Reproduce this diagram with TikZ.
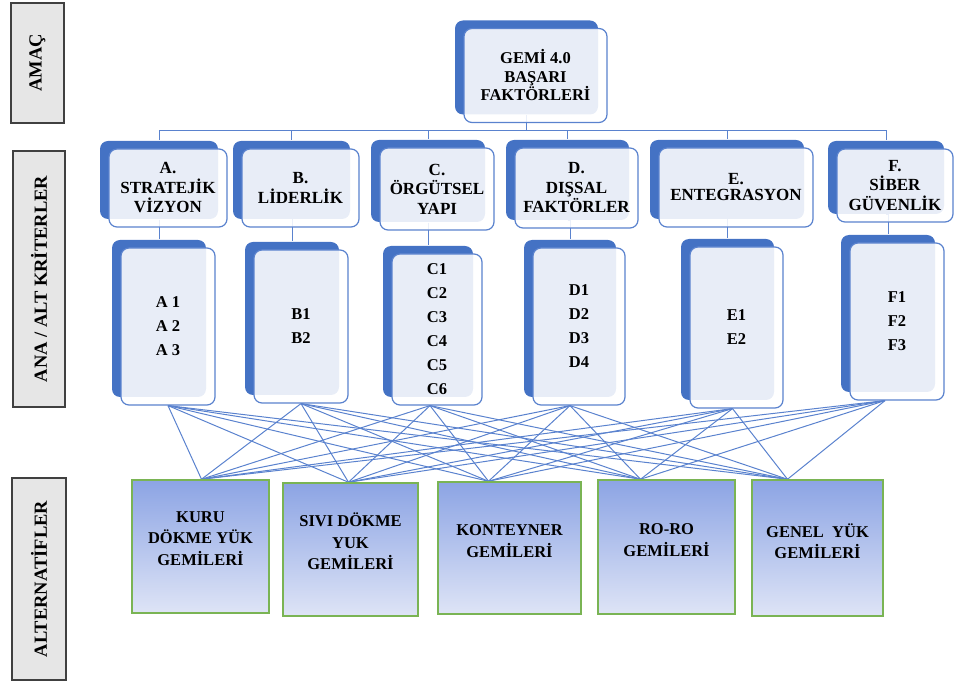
\documentclass[tikz,border=0pt]{standalone}
\usepackage{fontspec}
\setmainfont{Liberation Serif}
\usetikzlibrary{shadows,backgrounds}

\definecolor{koyumavi}{RGB}{68,114,196}
\definecolor{cizgimavi}{RGB}{90,130,206}
\definecolor{ustrenk}{RGB}{140,164,228}
\definecolor{altrenk}{RGB}{222,228,246}
\definecolor{yesil}{RGB}{122,180,84}
\definecolor{gri}{RGB}{230,230,230}

\tikzset{
  kutu/.style={draw=cizgimavi, line width=1.2pt, rounded corners=8pt, fill=white,
    fill opacity=0.88, text opacity=1, align=center,
    font=\bfseries\fontsize{17}{19.5}\selectfont,
    general shadow={fill=koyumavi, fill opacity=1, draw=none, shadow xshift=-9pt, shadow yshift=8pt}},
  altkutu/.style={kutu, font=\bfseries\fontsize{16.5}{24}\selectfont},
  secenek/.style={draw=yesil, line width=1.5pt, top color=ustrenk, bottom color=altrenk},
  secyazi/.style={align=center, font=\bfseries\fontsize{16.5}{21.5}\selectfont},
  etiket/.style={draw=black!75, line width=1.2pt, fill=gri, rotate=90,
    font=\bfseries\fontsize{18.5}{20}\selectfont},
  baglanti/.style={draw=cizgimavi, line width=1pt}
}

\begin{document}
\begin{tikzpicture}[x=1pt,y=-1pt]
  \useasboundingbox (0,0) rectangle (954,684);

  % Sol etiketler
  \node[etiket, minimum width=120pt, minimum height=53pt] (amac) at (37.5,63) {AMAÇ};
  \node[etiket, minimum width=256pt, minimum height=52pt] (kriter) at (39,279) {ANA / ALT KRİTERLER};
  \node[etiket, minimum width=202pt, minimum height=54pt] (alternatif) at (39,579) {ALTERNATİFLER};

  % Amaç
  \node[kutu, minimum width=143pt, minimum height=94pt, font=\bfseries\fontsize{16.5}{18.5}\selectfont] (gemi) at (535.5,75.5) {GEMİ 4.0\\BAŞARI\\FAKTÖRLERİ};

  % Ana kriterler
  \node[kutu, minimum width=118pt, minimum height=78pt] (kA) at (168,188) {A.\\STRATEJİK\\VİZYON};
  \node[kutu, minimum width=117pt, minimum height=78pt] (kB) at (300.5,188) {B.\\LİDERLİK};
  \node[kutu, minimum width=114pt, minimum height=82pt] (kC) at (437,189) {C.\\ÖRGÜTSEL\\YAPI};
  \node[kutu, minimum width=123pt, minimum height=80pt] (kD) at (576.5,188) {D.\\DIŞSAL\\FAKTÖRLER};
  \node[kutu, minimum width=154pt, minimum height=79pt, font=\bfseries\fontsize{17}{16}\selectfont] (kE) at (736,187.5) {E.\\ENTEGRASYON};
  \node[kutu, minimum width=116pt, minimum height=73pt] (kF) at (895,185.5) {F.\\SİBER\\GÜVENLİK};

  % Alt kriterler
  \node[altkutu, minimum width=94pt, minimum height=157pt] (aA) at (168,326.5) {A 1\\A 2\\A 3};
  \node[altkutu, minimum width=94pt, minimum height=153pt] (aB) at (301,326.5) {B1\\B2};
  \node[altkutu, minimum width=90pt, minimum height=151pt] (aC) at (437,329.5) {C1\\C2\\C3\\C4\\C5\\C6};
  \node[altkutu, minimum width=92pt, minimum height=157pt] (aD) at (579,326.5) {D1\\D2\\D3\\D4};
  \node[altkutu, minimum width=93pt, minimum height=161pt] (aE) at (736.5,327.5) {E1\\E2};
  \node[altkutu, minimum width=94pt, minimum height=157pt] (aF) at (897,321.5) {F1\\F2\\F3};

  % Alternatifler
  \node[secenek, minimum width=137pt, minimum height=133pt] (kuru) at (200.5,546.5) {};
  \node[secenek, minimum width=135pt, minimum height=133pt] (sivi) at (350.5,549.5) {};
  \node[secenek, minimum width=143pt, minimum height=132pt] (konteyner) at (509.5,548) {};
  \node[secenek, minimum width=137pt, minimum height=134pt] (roro) at (666.5,547) {};
  \node[secenek, minimum width=131pt, minimum height=136pt] (genel) at (817.5,548) {};
  \node[secyazi] (kuruy) at ([yshift=8pt]kuru.center) {KURU\\DÖKME YÜK\\GEMİLERİ};
  \node[secyazi] (siviy) at ([yshift=8pt]sivi.center) {SIVI DÖKME\\YUK\\GEMİLERİ};
  \node[secyazi] (konteynery) at ([yshift=7pt]konteyner.center) {KONTEYNER\\GEMİLERİ};
  \node[secyazi] (roroy) at ([yshift=7pt]roro.center) {RO-RO\\GEMİLERİ};
  \node[secyazi] (genely) at ([yshift=7pt]genel.center) {GENEL\ \ YÜK\\GEMİLERİ};

  % Bağlantılar
  \begin{scope}[on background layer]
    \coordinate (bus) at (0,131);
    \coordinate (g) at ([shift={(-9pt,8pt)}]gemi.south);
    \foreach \k in {A,B,C,D,E,F} {
      \coordinate (ku\k) at ([shift={(-9pt,8pt)}]k\k.north);
      \coordinate (ka\k) at ([shift={(-9pt,8pt)}]k\k.south);
      \coordinate (au\k) at ([shift={(-9pt,8pt)}]a\k.north);
      \draw[baglanti] (g) -- (g |- bus) -| (ku\k);
      \draw[baglanti] (ka\k) -- (ka\k -| au\k) -- (au\k);
    }
    \foreach \k/\dk in {A/0,B/0,C/-7,D/-9,E/-4,F/-12}
      \foreach \t/\dt in {kuru/1,sivi/-2,konteyner/-21,roro/-26,genel/-30}
        \draw[baglanti] ([xshift=\dk pt]a\k.south) -- ([xshift=\dt pt]\t.north);
  \end{scope}
\end{tikzpicture}
\end{document}
